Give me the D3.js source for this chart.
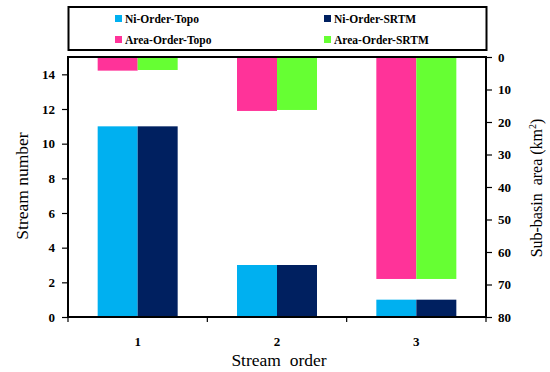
<!DOCTYPE html>
<html>
<head>
<meta charset="utf-8">
<style>
  body { margin: 0; background: #fff; }
  svg, svg text { font-family: "Times New Roman", Times, "Liberation Serif", "Nimbus Roman", "Tinos", serif; }
</style>
</head>
<body>
<svg id="chart" width="550" height="372"></svg>
<script src="https://d3js.org/d3.v7.min.js"></script>
<script>
// data
const orders = ['1', '2', '3']
const niTopo = [11, 3, 1]
const niSrtm = [11, 3, 1]
const areaTopo = [4.2, 16.6, 68.3]
const areaSrtm = [4.0, 16.3, 68.3]
const leftTicks = [0, 2, 4, 6, 8, 10, 12, 14]
const rightTicks = [0, 10, 20, 30, 40, 50, 60, 70, 80]

const colors = {
  niTopo: '#00b0f0',
  niSrtm: '#002060',
  areaTopo: '#ff3399',
  areaSrtm: '#66ff33'
}

const svg = d3.select('#chart')
const plotL = 68, plotR = 486, plotT = 57, plotB = 317

const x = d3.scaleBand().domain(orders).range([plotL, plotR])
const inner = d3.scaleBand().domain(['topo', 'srtm']).range([0, 80])
const yL = d3.scaleLinear().domain([0, 15]).range([plotB, plotT])
const yR = d3.scaleLinear().domain([0, 80]).range([plotT, plotB])
const off = (x.bandwidth() - 80) / 2

// Ni bars (from bottom)
const niSeries = [['topo', niTopo, colors.niTopo], ['srtm', niSrtm, colors.niSrtm]]
niSeries.forEach(([k, vals, c]) => {
  svg.append('g').selectAll('rect')
    .data(vals)
    .join('rect')
    .attr('x', (d, i) => x(orders[i]) + off + inner(k))
    .attr('width', inner.bandwidth())
    .attr('y', d => yL(d))
    .attr('height', d => plotB - yL(d))
    .attr('fill', c)
})

// area bars (hanging from top)
const areaSeries = [['topo', areaTopo, colors.areaTopo], ['srtm', areaSrtm, colors.areaSrtm]]
areaSeries.forEach(([k, vals, c]) => {
  svg.append('g').selectAll('rect')
    .data(vals)
    .join('rect')
    .attr('x', (d, i) => x(orders[i]) + off + inner(k))
    .attr('width', inner.bandwidth())
    .attr('y', plotT)
    .attr('height', d => yR(d) - plotT)
    .attr('fill', c)
})

// frame
svg.append('rect')
  .attr('x', plotL).attr('y', plotT)
  .attr('width', plotR - plotL).attr('height', plotB - plotT)
  .attr('fill', 'none').attr('stroke', '#000').attr('stroke-width', 2)

// axes
const styleAxis = g => {
  g.attr('font-family', null)
  g.select('.domain').remove()
  g.selectAll('.tick line').attr('stroke', '#000').attr('stroke-width', 1.2)
  g.selectAll('.tick text')
    .attr('font-weight', 'bold')
    .attr('font-size', 13)
    .attr('fill', '#000')
}

svg.append('g')
  .attr('transform', `translate(${plotL},0)`)
  .call(d3.axisLeft(yL).tickValues(leftTicks).tickSize(6).tickPadding(7))
  .call(styleAxis)

svg.append('g')
  .attr('transform', `translate(${plotR},0)`)
  .call(d3.axisRight(yR).tickValues(rightTicks).tickSize(6).tickPadding(6))
  .call(styleAxis)

// x axis: ticks at band boundaries, labels at band centers
const xg = svg.append('g').attr('transform', `translate(0,${plotB})`)
xg.selectAll('line')
  .data([...orders.map(o => x(o)), plotR])
  .join('line')
  .attr('x1', d => d).attr('x2', d => d)
  .attr('y1', 0).attr('y2', 5)
  .attr('stroke', '#000').attr('stroke-width', 1.2)
xg.selectAll('text')
  .data(orders)
  .join('text')
  .attr('x', d => x(d) + x.bandwidth() / 2)
  .attr('y', 29)
  .attr('text-anchor', 'middle')
  .attr('font-weight', 'bold')
  .attr('font-size', 13)
  .text(d => d)

// axis titles
svg.append('text')
  .attr('x', 279).attr('y', 366)
  .attr('text-anchor', 'middle')
  .attr('font-size', 17.5)
  .text('Stream\u00a0 order')

svg.append('text')
  .attr('transform', 'translate(28,186) rotate(-90)')
  .attr('text-anchor', 'middle')
  .attr('font-size', 17.5)
  .text('Stream number')

const rt = svg.append('text')
  .attr('transform', 'translate(542,188) rotate(-90)')
  .attr('text-anchor', 'middle')
  .attr('font-size', 16)
rt.append('tspan').text('Sub-basin\u00a0 area (km')
rt.append('tspan').attr('font-size', 10).attr('dy', -6).text('2')
rt.append('tspan').attr('dy', 6).text(')')

// legend
const leg = svg.append('g')
leg.append('rect')
  .attr('x', 68.5).attr('y', 7)
  .attr('width', 418).attr('height', 43)
  .attr('fill', '#fff').attr('stroke', '#000').attr('stroke-width', 2)

const legendItems = [
  ['Ni-Order-Topo', colors.niTopo, 115, 19],
  ['Ni-Order-SRTM', colors.niSrtm, 324, 19],
  ['Area-Order-Topo', colors.areaTopo, 115, 40],
  ['Area-Order-SRTM', colors.areaSrtm, 324, 40]
]
const li = leg.selectAll('g.item')
  .data(legendItems)
  .join('g')
  .attr('class', 'item')
li.append('rect')
  .attr('x', d => d[2]).attr('y', d => d[3] - 4)
  .attr('width', 7).attr('height', 7)
  .attr('fill', d => d[1])
li.append('text')
  .attr('x', d => d[2] + 10).attr('y', d => d[3] + 4)
  .attr('font-weight', 'bold')
  .attr('font-size', 11.5)
  .text(d => d[0])
</script>
</body>
</html>
